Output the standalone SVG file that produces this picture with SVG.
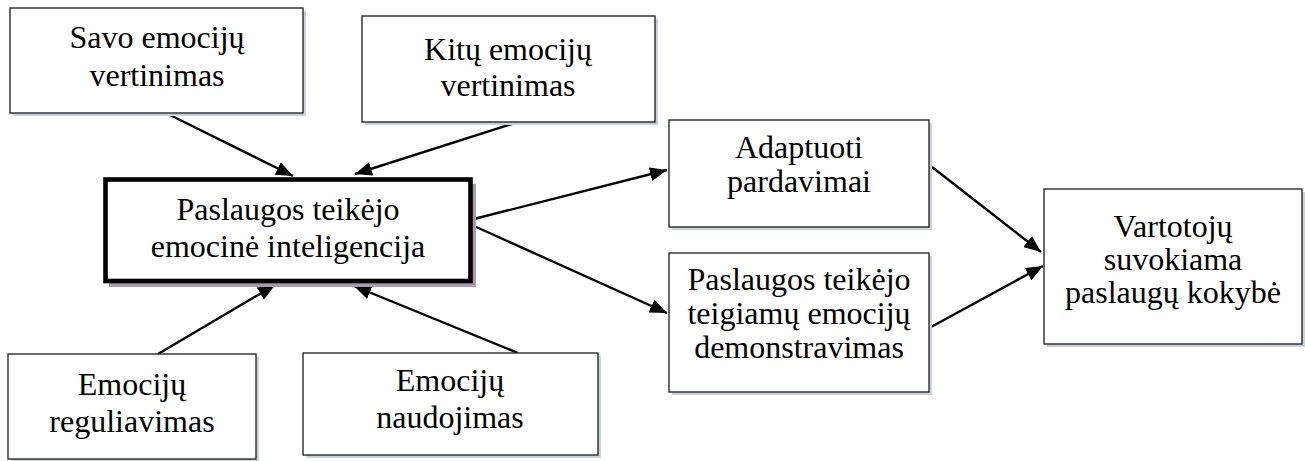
<svg xmlns="http://www.w3.org/2000/svg" width="1305" height="461" viewBox="0 0 1305 461">
  <style>
    .box { fill: #ffffff; stroke: #2a2a2a; stroke-width: 1.4; }
    .shadow { fill: #c9d1d9; }
    .core { fill: #ffffff; stroke: #000000; stroke-width: 4.6; }
    .core-shadow { fill: #a59bb3; }
    .lbl { font-family: "Liberation Serif", "Times New Roman", serif; font-size: 32px; fill: #000000; text-anchor: middle; }
    .link { stroke: #000000; stroke-width: 2.4; fill: none; marker-end: url(#head); }
  </style>
  <defs>
    <marker id="head" markerUnits="userSpaceOnUse" markerWidth="18" markerHeight="14" refX="17" refY="7" orient="auto">
      <path d="M0,0 L17,7 L0,14 Z" fill="#000000"/>
    </marker>
  </defs>
  <rect width="1305" height="461" fill="#ffffff"/>

  <!-- connectors -->
  <g id="connectors">
    <line class="link" x1="168" y1="114" x2="293" y2="176"/>
    <line class="link" x1="518" y1="122" x2="355" y2="174"/>
    <line class="link" x1="158" y1="354" x2="275" y2="285"/>
    <line class="link" x1="518" y1="353" x2="354" y2="286"/>
    <line class="link" x1="474" y1="219" x2="667" y2="170"/>
    <line class="link" x1="474" y1="226" x2="667" y2="313"/>
    <line class="link" x1="932" y1="167" x2="1041" y2="252"/>
    <line class="link" x1="931" y1="327" x2="1043" y2="266"/>
  </g>

  <g id="savo-emociju-vertinimas">
    <rect class="shadow" x="13" y="11" width="293" height="105"/>
    <rect class="box" x="10" y="8" width="293" height="105"/>
    <text class="lbl" x="157" y="48">Savo emocijų</text>
    <text class="lbl" x="157" y="86">vertinimas</text>
  </g>

  <g id="kitu-emociju-vertinimas">
    <rect class="shadow" x="365" y="19" width="293" height="106"/>
    <rect class="box" x="362" y="16" width="293" height="106"/>
    <text class="lbl" x="508" y="60">Kitų emocijų</text>
    <text class="lbl" x="508" y="96">vertinimas</text>
  </g>

  <g id="emocine-inteligencija">
    <rect class="core-shadow" x="109" y="184" width="367" height="103"/>
    <rect class="core" x="105.5" y="179.5" width="365" height="101.5"/>
    <text class="lbl" x="288" y="220">Paslaugos teikėjo</text>
    <text class="lbl" x="288" y="257">emocinė inteligencija</text>
  </g>

  <g id="emociju-reguliavimas">
    <rect class="shadow" x="11" y="357" width="248" height="104"/>
    <rect class="box" x="8" y="354" width="248" height="105"/>
    <text class="lbl" x="132" y="395">Emocijų</text>
    <text class="lbl" x="132" y="432">reguliavimas</text>
  </g>

  <g id="emociju-naudojimas">
    <rect class="shadow" x="306" y="356" width="295" height="102"/>
    <rect class="box" x="303" y="353" width="295" height="102"/>
    <text class="lbl" x="450" y="391">Emocijų</text>
    <text class="lbl" x="450" y="428">naudojimas</text>
  </g>

  <g id="adaptuoti-pardavimai">
    <rect class="shadow" x="672" y="123" width="260" height="107"/>
    <rect class="box" x="669" y="120" width="260" height="107"/>
    <text class="lbl" x="799" y="158">Adaptuoti</text>
    <text class="lbl" x="799" y="192">pardavimai</text>
  </g>

  <g id="teigiamu-emociju-demonstravimas">
    <rect class="shadow" x="672" y="256" width="260" height="139"/>
    <rect class="box" x="669" y="253" width="260" height="139"/>
    <text class="lbl" x="799" y="290">Paslaugos teikėjo</text>
    <text class="lbl" x="799" y="324">teigiamų emocijų</text>
    <text class="lbl" x="799" y="358">demonstravimas</text>
  </g>

  <g id="suvokiama-paslaugu-kokybe">
    <rect class="shadow" x="1047" y="192" width="258" height="155"/>
    <rect class="box" x="1044" y="189" width="258" height="155"/>
    <text class="lbl" x="1173" y="237">Vartotojų</text>
    <text class="lbl" x="1173" y="270">suvokiama</text>
    <text class="lbl" x="1173" y="303">paslaugų kokybė</text>
  </g>
</svg>
